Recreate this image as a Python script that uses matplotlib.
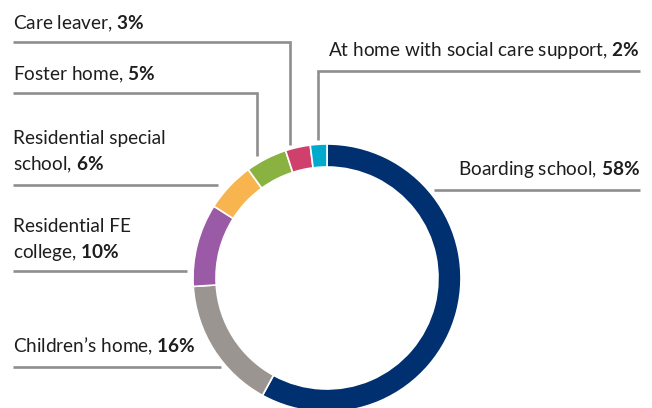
import matplotlib
matplotlib.use('Agg')
import matplotlib.pyplot as plt

labels = ['Boarding school', "Children\u2019s home", 'Residential FE\ncollege',
          'Residential special\nschool', 'Foster home', 'Care leaver',
          'At home with social care support']
values = [58, 16, 10, 6, 5, 3, 2]
colors = ['#00306f', '#9a9591', '#9a5aa5', '#f8b54f', '#8ab240', '#cf416c', '#00aacd']

plt.rcParams['font.family'] = ['Lato', 'DejaVu Sans']
plt.rcParams['mathtext.fontset'] = 'custom'
plt.rcParams['mathtext.rm'] = 'Lato'
plt.rcParams['mathtext.bf'] = 'Lato:bold'

W, H = 652, 408
fig = plt.figure(figsize=(W / 100, H / 100), dpi=100)
ax = fig.add_axes([0, 0, 1, 1])

# donut, y in pixel coords flipped (data y = H - pixel y)
cx, cy, r = 327, H - 278, 134
ax.pie(values, colors=colors, startangle=90, counterclock=False,
       center=(cx, cy), radius=r,
       wedgeprops=dict(width=23, edgecolor='white', linewidth=1.2))

ax.set_xlim(0, W)
ax.set_ylim(0, H)
ax.set_aspect('equal')
ax.axis('off')

lc = '#8e8e8e'
lw = 1.9
tc = '#1e1e1e'
fs = 13.7

def py(y):
    return H - y

# leader lines (pixel coords)
leaders = [
    [(640, 190), (434, 190)],                      # boarding
    [(13, 367), (221, 367)],                        # children's home
    [(13, 271), (187, 271)],                        # FE college
    [(13, 185), (218, 185)],                        # special school
    [(13, 93), (257, 93), (257, 156)],              # foster
    [(13, 42), (290, 42), (290, 145)],              # care leaver
    [(640, 71), (318, 71), (318, 140)],             # at home
]
for pts in leaders:
    ax.plot([p[0] for p in pts], [py(p[1]) for p in pts], color=lc, lw=lw,
            solid_capstyle='butt', solid_joinstyle='miter')

# label positions: (x, baseline y of last line in pixels, ha)
label_pos = [
    (640, 175, 'right'),
    (13, 352, 'left'),
    (13, 258, 'left'),
    (13, 170, 'left'),
    (13, 80, 'left'),
    (13, 29, 'left'),
    (640, 56, 'right'),
]
for lab, v, (x, y, ha) in zip(labels, values, label_pos):
    lines = lab.split('\n')
    lines[-1] = lines[-1] + ', $\\mathbf{' + str(v) + '\\%}$'
    n = len(lines)
    for i, line in enumerate(lines):
        yy = y - (n - 1 - i) * 26
        ax.text(x, py(yy), line, ha=ha, va='baseline', fontsize=fs, color=tc)

fig.savefig('out.png', dpi=100)
